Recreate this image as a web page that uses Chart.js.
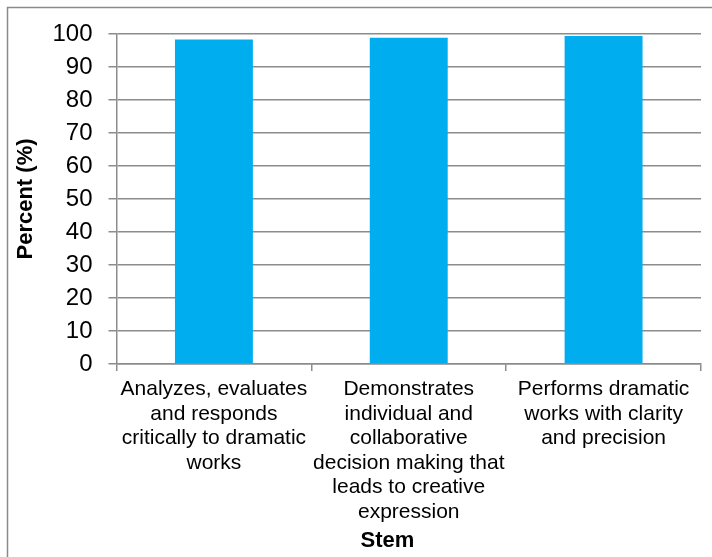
<!DOCTYPE html>
<html>
<head>
<meta charset="utf-8">
<script src="https://cdn.jsdelivr.net/npm/chart.js@4/dist/chart.umd.min.js"></script>
<style>
  html, body { margin: 0; padding: 0; background: #fff; }
  #wrap { width: 712px; height: 557px; }
</style>
</head>
<body>
<div id="wrap"><canvas id="c" width="712" height="557"></canvas></div>
<script>
const categories = [
  ["Analyzes, evaluates", "and responds", "critically to dramatic", "works"],
  ["Demonstrates", "individual and", "collaborative", "decision making that", "leads to creative", "expression"],
  ["Performs dramatic", "works with clarity", "and precision"]
];
const percentValues = [98.3, 98.9, 99.4];
const yTickValues = [0, 10, 20, 30, 40, 50, 60, 70, 80, 90, 100];
const yAxisTitle = "Percent (%)";
const xAxisTitle = "Stem";

const FONT = "'Liberation Sans', Arial, sans-serif";
const GRID = "#8c8c8c";

const framePlugin = {
  id: 'frame',
  beforeDraw(chart) {
    const ctx = chart.ctx;
    ctx.save();
    ctx.fillStyle = '#ffffff';
    ctx.fillRect(0, 0, chart.width, chart.height);
    ctx.strokeStyle = '#8a8a8a';
    ctx.lineWidth = 1.5;
    ctx.beginPath();
    ctx.moveTo(7.5, chart.height + 5);
    ctx.lineTo(7.5, 7.5);
    ctx.lineTo(chart.width + 5, 7.5);
    ctx.stroke();
    ctx.restore();
  }
};

new Chart(document.getElementById('c'), {
  type: 'bar',
  data: {
    labels: categories,
    datasets: [{
      data: percentValues,
      backgroundColor: '#00AEEF',
      borderWidth: 0,
      barPercentage: 0.4,
      categoryPercentage: 1.0
    }]
  },
  options: {
    responsive: false,
    animation: false,
    layout: { padding: { left: 10, right: 11, top: 34, bottom: 3 } },
    plugins: {
      legend: { display: false },
      tooltip: { enabled: false }
    },
    scales: {
      x: {
        offset: true,
        grid: {
          offset: true,
          drawOnChartArea: false,
          drawTicks: true,
          tickLength: 7,
          color: GRID,
          lineWidth: 1.5
        },
        border: { display: true, color: GRID, width: 1.5 },
        ticks: {
          color: '#000',
          font: { family: FONT, size: 21, lineHeight: 1.17 },
          padding: 6,
          maxRotation: 0,
          minRotation: 0,
          autoSkip: false
        },
        title: {
          display: true,
          text: xAxisTitle + '       ',
          color: '#000',
          font: { family: FONT, size: 22, weight: 'bold', lineHeight: 1.2 },
          padding: { top: 0, bottom: 0 }
        },
        afterFit(scale) { scale.height = 190; }
      },
      y: {
        min: 0,
        max: 100,
        afterBuildTicks(scale) { scale.ticks = yTickValues.map(v => ({ value: v })); },
        grid: {
          color: GRID,
          lineWidth: 1.5,
          drawTicks: true,
          tickLength: 8
        },
        border: { display: true, color: GRID, width: 1.5 },
        ticks: {
          color: '#000',
          font: { family: FONT, size: 24 },
          padding: 16
        },
        title: {
          display: true,
          text: yAxisTitle,
          color: '#000',
          font: { family: FONT, size: 22, weight: 'bold', lineHeight: 1.2 },
          padding: { top: 3, bottom: 0 }
        },
        afterFit(scale) { scale.width = 106.5; }
      }
    }
  },
  plugins: [framePlugin]
});
</script>
</body>
</html>
